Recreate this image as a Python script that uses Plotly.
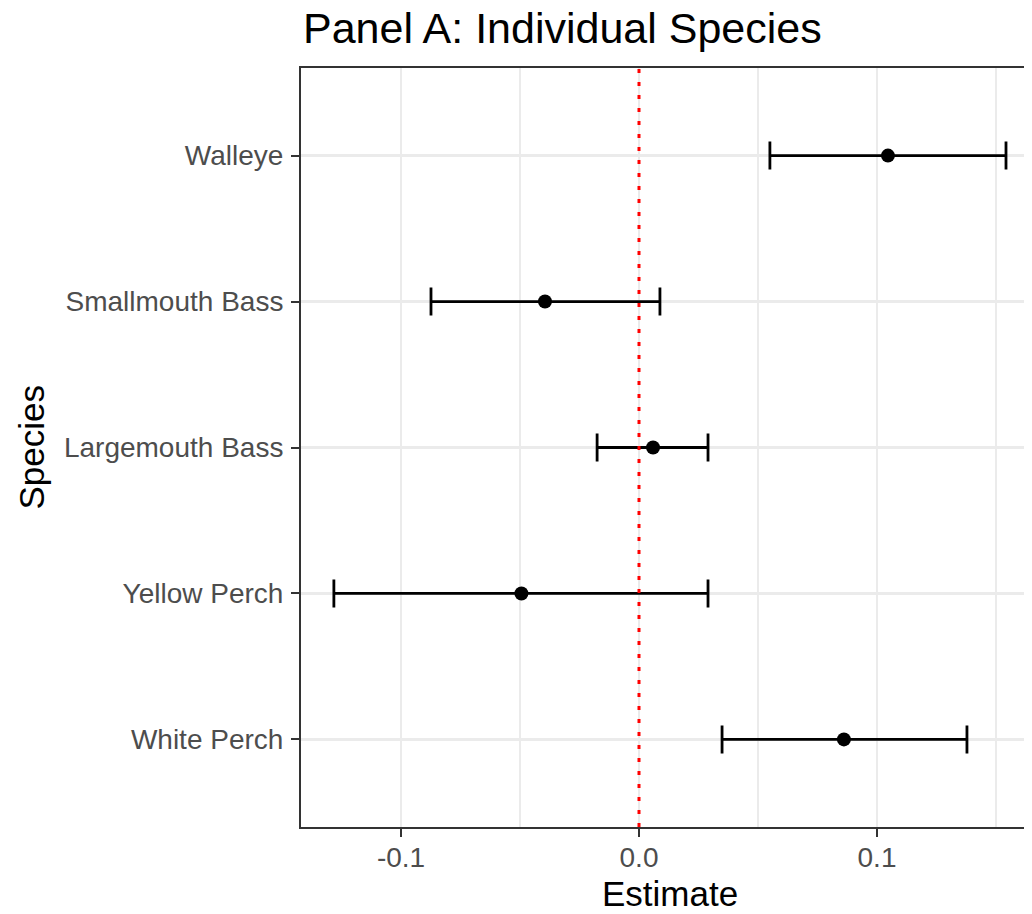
import plotly.graph_objects as go

# ---- data ----
species = ["White Perch", "Yellow Perch", "Largemouth Bass", "Smallmouth Bass", "Walleye"]
estimate = [0.0861, -0.0494, 0.0059, -0.0395, 0.1046]
ci_low = [0.0349, -0.1282, -0.0176, -0.0874, 0.0550]
ci_high = [0.1378, 0.0290, 0.0290, 0.0088, 0.1542]
x_tickvals = [-0.1, 0.0, 0.1]
x_ticktext = ["-0.1", "0.0", "0.1"]
x_minor = [-0.05, 0.05, 0.15]

err_plus = [h - e for h, e in zip(ci_high, estimate)]
err_minus = [e - l for e, l in zip(estimate, ci_low)]

FONT = "Arial, Liberation Sans, sans-serif"
OFF = 8  # page body margin
W, H = 1032 - OFF, 914 - OFF
L, R, T, B = 301 - OFF, 0, 68 - OFF, 914 - 827
pw = W - L - R
ph = H - T - B
X0_SCREEN = 639 - OFF   # x position of 0.0 inside the figure
PX_PER_UNIT = 2380

fig = go.Figure()
fig.add_trace(go.Scatter(
    x=estimate, y=species, mode="markers",
    marker=dict(color="black", size=14),
    error_x=dict(type="data", symmetric=False, array=err_plus, arrayminus=err_minus,
                 color="black", thickness=2.8, width=14),
    showlegend=False, hoverinfo="skip",
))

fig.add_shape(type="line", xref="x", yref="paper", x0=0, x1=0, y0=0, y1=1,
              line=dict(color="red", width=3, dash="4px,9px"), layer="above")

fig.update_layout(
    width=W, height=H,
    margin=dict(l=L, r=R, t=T, b=B, pad=0),
    plot_bgcolor="white", paper_bgcolor="white",
    font=dict(family=FONT, color="black"),
    title=dict(text="Panel A: Individual Species", x=(303 - OFF) / W, xref="container", xanchor="left",
               y=1 - (28 - OFF) / H, yref="container", yanchor="middle",
               font=dict(size=43, color="black", family=FONT)),
    xaxis=dict(
        range=[(L - X0_SCREEN) / PX_PER_UNIT, (W - R - X0_SCREEN) / PX_PER_UNIT],
        tickvals=x_tickvals, ticktext=x_ticktext,
        tickfont=dict(size=28, color="#4D4D4D", family=FONT),
        ticks="outside", ticklen=8, tickwidth=2, tickcolor="#333333",
        ticklabelstandoff=-4,
        showline=True, linecolor="#333333", linewidth=2, mirror=True,
        showgrid=True, gridcolor="#EBEBEB", gridwidth=2,
        zeroline=False,
        minor=dict(tickvals=x_minor, showgrid=True, gridcolor="#EBEBEB", gridwidth=1.5, ticks=""),
    ),
    yaxis=dict(
        type="category", categoryorder="array", categoryarray=species,
        range=[-0.6, 4.6],
        tickfont=dict(size=28, color="#4D4D4D", family=FONT),
        ticks="outside", ticklen=8, tickwidth=2, tickcolor="#333333",
        ticklabelstandoff=2,
        showline=True, linecolor="#333333", linewidth=2, mirror=False,
        showgrid=True, gridcolor="#EBEBEB", gridwidth=2.5,
        zeroline=False,
    ),
    annotations=[
        dict(text="Estimate", xref="paper", yref="paper",
             x=(670 - OFF - L) / pw, y=-(893 - 827) / ph, xanchor="center", yanchor="middle",
             showarrow=False, font=dict(size=35, color="black", family=FONT)),
        dict(text="Species", xref="paper", yref="paper", textangle=-90,
             x=(31 - OFF - L) / pw, y=0.5, xanchor="center", yanchor="middle",
             showarrow=False, font=dict(size=35, color="black", family=FONT)),
    ],
)

fig.write_html("out.html")
